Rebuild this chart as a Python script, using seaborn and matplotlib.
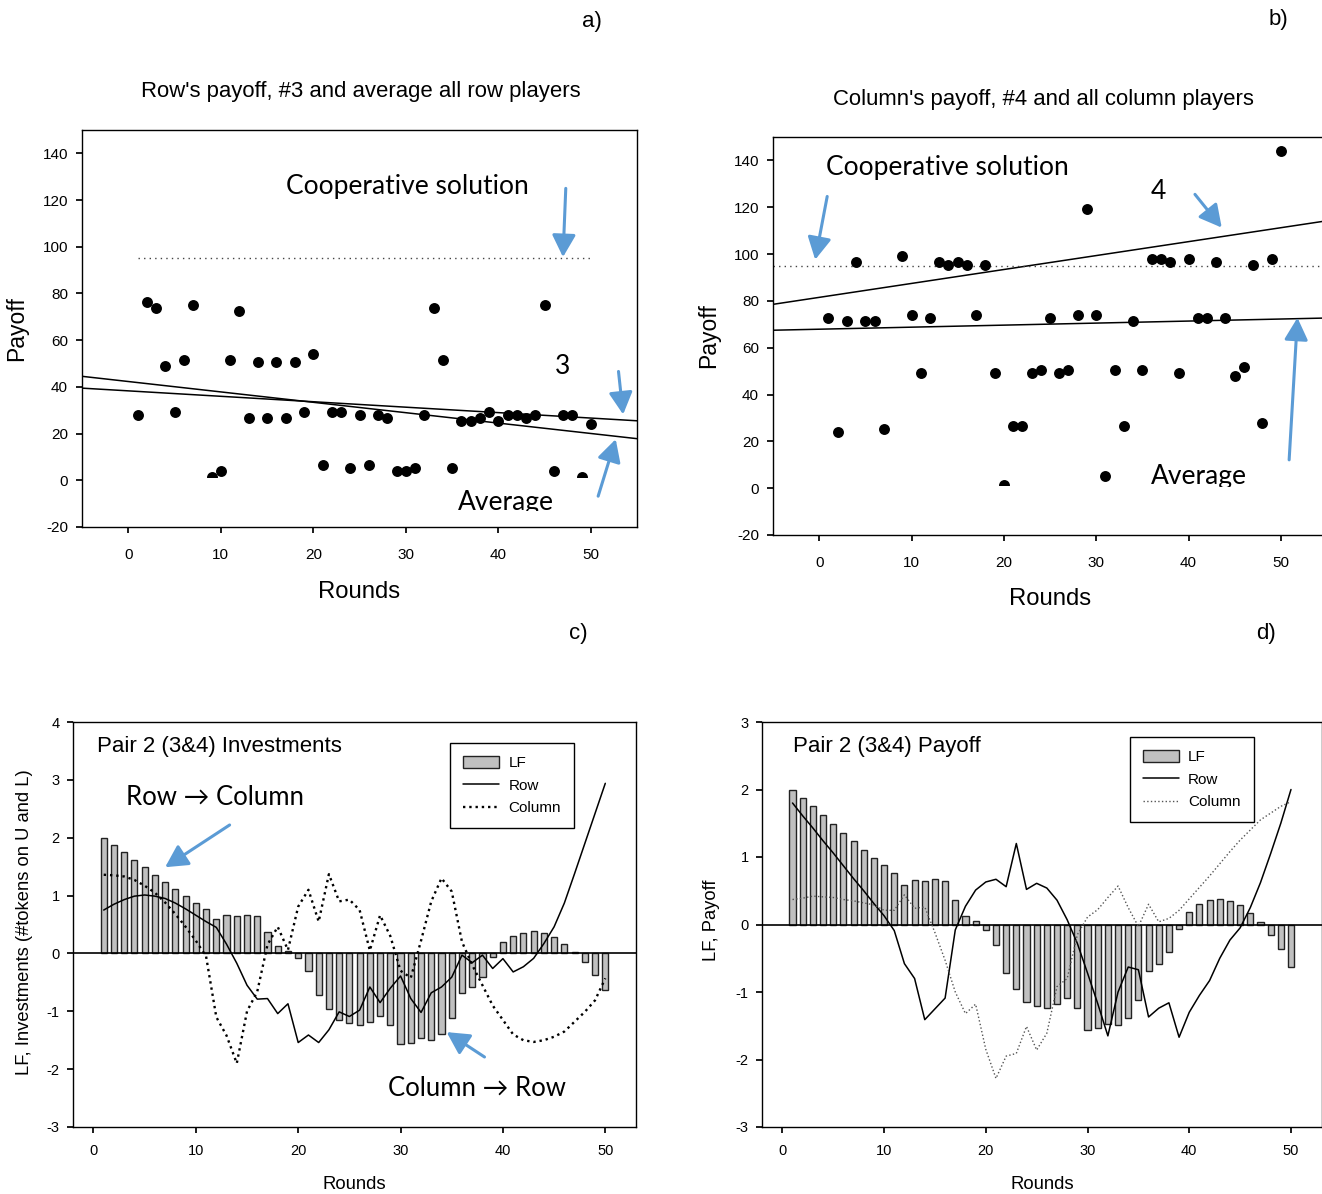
import numpy as np
import pandas as pd
import matplotlib
matplotlib.use("Agg")
import matplotlib.pyplot as plt
import seaborn as sns
from matplotlib.patches import Rectangle, Patch
from matplotlib.lines import Line2D

# ---------------- data ----------------
rounds_ab = [1, 2, 3, 4, 5, 6, 7, 9, 10, 11, 12, 13, 14, 15, 16, 17, 18, 19, 20,
             21, 22, 23, 24, 25, 26, 27, 28, 29, 30, 31, 32, 33, 34, 35, 36, 37,
             38, 39, 40, 41, 42, 43, 44, 45, 46, 47, 48, 49, 50]
payoff_row3 = [27.9, 76.4, 73.9, 49.0, 29.1, 51.6, 75.2, 1.5, 4.0, 51.6, 72.6, 26.7,
               50.5, 26.7, 50.5, 26.7, 50.5, 29.1, 54.1, 6.7, 29.1, 29.1, 5.3, 27.9,
               6.7, 27.9, 26.7, 4.0, 4.0, 5.3, 27.9, 73.9, 51.6, 5.3, 25.3, 25.3,
               26.7, 29.1, 25.3, 27.9, 27.9, 26.7, 27.9, 75.2, 4.0, 27.9, 27.9, 1.5, 24.2]
payoff_col4 = [72.7, 24.0, 71.6, 96.7, 71.6, 71.6, 25.4, 99.3, 74.1, 49.1, 72.7, 96.7,
               95.4, 96.7, 95.4, 74.1, 95.4, 49.1, 1.5, 26.7, 26.7, 49.1, 50.4, 72.7,
               49.1, 50.4, 74.1, 119.1, 74.1, 5.3, 50.4, 26.7, 71.6, 50.4, 97.9, 97.9,
               96.7, 49.1, 97.9, 72.7, 72.7, 96.7, 72.7, 47.9, 51.7, 95.4, 27.9, 97.9, 144.1]
coop_solution = 95
# trend lines (intercept, slope)
trend_a = {"3": (38.3, -0.233), "Average": (42.3, -0.445)}
trend_b = {"4": (81.5, 0.595), "Average": (67.9, 0.087)}

rounds = list(range(1, 51))
lf = [1.99, 1.87, 1.75, 1.62, 1.49, 1.36, 1.23, 1.11, 0.99, 0.88,
      0.77, 0.59, 0.66, 0.65, 0.67, 0.64, 0.37, 0.12, 0.05, -0.085,
      -0.30, -0.72, -0.96, -1.15, -1.21, -1.24, -1.18, -1.09, -1.24, -1.57,
      -1.54, -1.47, -1.49, -1.39, -1.12, -0.69, -0.58, -0.41, -0.07, 0.19,
      0.30, 0.36, 0.38, 0.35, 0.29, 0.17, 0.03, -0.15, -0.37, -0.63]
inv_row = [0.75, 0.85, 0.93, 0.99, 1.01, 0.99, 0.95, 0.87, 0.77, 0.66,
           0.55, 0.45, 0.16, -0.17, -0.55, -0.79, -0.78, -1.04, -0.87, -1.54,
           -1.41, -1.54, -1.32, -1.01, -1.09, -0.98, -0.58, -0.85, -0.60, -0.39,
           -0.78, -1.02, -0.68, -0.58, -0.41, -0.03, -0.16, -0.03, -0.26, -0.09,
           -0.32, -0.23, -0.085, 0.17, 0.46, 0.87, 1.38, 1.90, 2.42, 2.94]
inv_col = [1.36, 1.35, 1.33, 1.27, 1.17, 1.05, 0.88, 0.68, 0.46, 0.22,
           -0.05, -1.10, -1.42, -1.90, -1.00, -0.66, 0.15, 0.46, 0.06, 0.81,
           1.10, 0.55, 1.37, 0.90, 0.93, 0.75, 0.05, 0.66, 0.30, -0.30,
           -0.42, 0.22, 0.90, 1.30, 1.07, 0.20, -0.20, -0.55, -0.90, -1.15,
           -1.40, -1.50, -1.53, -1.50, -1.44, -1.35, -1.18, -1.01, -0.81, -0.43]
pay_row = [1.80, 1.61, 1.43, 1.24, 1.06, 0.87, 0.68, 0.50, 0.31, 0.13,
           -0.09, -0.58, -0.80, -1.41, -1.25, -1.09, -0.08, 0.27, 0.51, 0.63,
           0.67, 0.56, 1.20, 0.52, 0.61, 0.54, 0.36, 0.07, -0.28, -0.72,
           -1.17, -1.65, -1.00, -0.63, -0.67, -1.37, -1.24, -1.16, -1.67, -1.30,
           -1.05, -0.83, -0.50, -0.23, -0.05, 0.25, 0.62, 1.05, 1.50, 2.00]
pay_col = [0.37, 0.39, 0.42, 0.41, 0.40, 0.37, 0.35, 0.32, 0.29, 0.21,
           0.21, 0.44, 0.24, 0.26, -0.12, -0.53, -1.00, -1.32, -1.18, -1.85,
           -2.28, -1.95, -1.91, -1.51, -1.86, -1.61, -0.92, -0.80, -0.15, 0.11,
           0.22, 0.40, 0.57, 0.25, -0.03, 0.30, 0.04, 0.09, 0.21, 0.38,
           0.55, 0.72, 0.90, 1.08, 1.25, 1.40, 1.55, 1.65, 1.75, 1.82]

# ---------------- style ----------------
sns.set_theme(style="ticks", rc={"axes.edgecolor": "black", "axes.linewidth": 1.0,
                                 "xtick.color": "black", "ytick.color": "black",
                                 "xtick.direction": "out", "ytick.direction": "out",
                                 "xtick.major.size": 4, "ytick.major.size": 4,
                                 "text.color": "black", "axes.labelcolor": "black",
                                 "axes.unicode_minus": False})
plt.rcParams["font.family"] = ["Liberation Sans", "DejaVu Sans"]
BIG = ["Lato", "DejaVu Sans"]
BLUE = "#5B9BD5"

W, H = 1322, 1194
fig = plt.figure(figsize=(W / 100, H / 100), dpi=100)


def add_ax(l, t, r, b):
    return fig.add_axes([l / W, 1 - b / H, (r - l) / W, (b - t) / H])


def ftext(x, y, s, **kw):
    fig.text(x / W, 1 - y / H, s, ha="center", va="center", **kw)


def arrow(ax, tail, head):
    ax.annotate("", xy=head, xytext=tail,
                arrowprops=dict(arrowstyle="-|>,head_length=0.75,head_width=0.4",
                                color=BLUE, lw=2.2, shrinkA=0, shrinkB=0,
                                mutation_scale=18))


axA = add_ax(82, 130, 637, 527)
axB = add_ax(773, 137, 1327, 535)
axC = add_ax(73, 722, 636, 1127)
axD = add_ax(762, 722, 1321.5, 1127)

# ---------------- panel a / b ----------------
for ax, pay, trend, full_coop, clip_pt, clip_txt, texts in [
    (axA, payoff_row3, trend_a, False, 1.5, -13.2,
     dict(coop=(17.1, 125.9), num=("3", 46.9, 48.7), avg=(35.6, -9.3))),
    (axB, payoff_col4, trend_b, True, 1.5, 0.5,
     dict(coop=(0.76, 137.0), num=("4", 36.7, 126.7), avg=(35.9, 4.8))),
]:
    ax.set_xlim(-5, 55)
    ax.set_ylim(-20, 150)
    xl = np.array(ax.get_xlim())
    for key, (b0, b1) in trend.items():
        sns.lineplot(x=xl, y=b0 + b1 * xl, ax=ax, color="black", lw=1.1)
    if full_coop:
        ax.axhline(coop_solution, color="#444444", lw=1.0, ls=(0, (1, 3)))
    else:
        sns.lineplot(x=[rounds_ab[0], rounds_ab[-1]], y=[coop_solution] * 2, ax=ax,
                     color="#444444", lw=1.0, ls=(0, (1, 3)))
    sns.scatterplot(x=rounds_ab, y=pay, ax=ax, color="black", s=62, linewidth=0, zorder=3)
    sc = ax.collections[-1]
    sc.set_clip_path(Rectangle((-5, clip_pt), 60, 200, transform=ax.transData))
    ax.text(*texts["coop"], "Cooperative solution", family=BIG, fontsize=19,
            ha="left", va="center")
    n, nx, ny = texts["num"]
    ax.text(nx, ny, n, family=BIG, fontsize=19, ha="center", va="center")
    t = ax.text(*texts["avg"], "Average", family=BIG, fontsize=19, ha="left",
                va="center", clip_on=True)
    t.set_clip_path(Rectangle((-5, clip_txt), 60, 200, transform=ax.transData))
    ax.set_xticks([0, 10, 20, 30, 40, 50])
    ax.set_yticks(range(-20, 141, 20))
    ax.tick_params(axis="x", labelsize=11, pad=11)
    ax.tick_params(axis="y", labelsize=11, pad=6)
    ax.set_xlim(-5, 55)
    ax.set_ylim(-20, 150)
    for s in ax.spines.values():
        s.set_visible(True)

axA.set_xlabel("Rounds", fontsize=17.2)
axA.set_ylabel("Payoff", fontsize=16.5)
axA.xaxis.set_label_coords(0.5, -0.1637)
axA.yaxis.set_label_coords(-0.1171, 0.5)
axB.set_xlabel("Rounds", fontsize=17.2)
axB.set_ylabel("Payoff", fontsize=16.5)
axB.xaxis.set_label_coords(0.5, -0.161)
axB.yaxis.set_label_coords(-0.1155, 0.5)

# arrows a
arrow(axA, (47.3, 125.0), (47.0, 95.6))
arrow(axA, (53.0, 46.6), (53.5, 28.2))
arrow(axA, (50.8, -6.8), (52.7, 17.6))
# arrows b
arrow(axB, (0.87, 124.6), (-0.43, 97.6))
arrow(axB, (40.7, 125.5), (43.6, 111.3))
arrow(axB, (50.9, 12.1), (51.8, 72.8))

# ---------------- panel c / d ----------------
for ax, row, col, ylim, colstyle in [
    (axC, inv_row, inv_col, (-3, 4), dict(color="black", lw=1.7, ls=":")),
    (axD, pay_row, pay_col, (-3, 3), dict(color="#555555", lw=1.0, ls=":")),
]:
    sns.barplot(x=rounds, y=lf, ax=ax, native_scale=True, width=0.6, color="#c0c0c0",
                saturation=1, edgecolor="#222222", linewidth=1.0, errorbar=None, zorder=2)
    ax.axhline(0, color="black", lw=1.2, zorder=3)
    sns.lineplot(x=rounds, y=row, ax=ax, color="black", lw=1.1, zorder=4)
    sns.lineplot(x=rounds, y=col, ax=ax, zorder=4, **colstyle)
    ax.set_xlim(-2, 53)
    ax.set_ylim(*ylim)
    ax.set_xticks([0, 10, 20, 30, 40, 50])
    ax.set_yticks(range(ylim[0], ylim[1] + 1))
    ax.tick_params(axis="x", labelsize=10.5, pad=8)
    ax.tick_params(axis="y", labelsize=10.5, pad=5.5)
    for s in ax.spines.values():
        s.set_visible(True)
    handles = [Patch(facecolor="#c0c0c0", edgecolor="#222222", label="LF"),
               Line2D([], [], color="black", lw=1.1, label="Row"),
               Line2D([], [], label="Column", **colstyle)]
    anchor = (0.670, 0.948) if ax is axC else (0.658, 0.963)
    leg = ax.legend(handles=handles, loc="upper left", bbox_to_anchor=anchor,
                    borderaxespad=0, frameon=True, fancybox=False, framealpha=1,
                    edgecolor="black", fontsize=11, handlelength=2.35,
                    handleheight=0.8, borderpad=0.85, labelspacing=0.55,
                    handletextpad=0.6)
    leg.get_frame().set_linewidth(1.0)

axC.set_xlabel("Rounds", fontsize=13.3)
axC.set_ylabel("LF, Investments (#tokens on U and L)", fontsize=13.2)
axC.xaxis.set_label_coords(0.5, -0.141)
axC.yaxis.set_label_coords(-0.0853, 0.506)
axD.set_xlabel("Rounds", fontsize=13.3)
axD.set_ylabel("LF, Payoff", fontsize=13.2)
axD.xaxis.set_label_coords(0.501, -0.141)
axD.yaxis.set_label_coords(-0.0894, 0.511)

for ax in (axA, axB, axC, axD):
    ax.xaxis.label.set_va("center")
    ax.yaxis.label.set_va("center")
    ax.yaxis.label.set_ha("center")

axC.text(0.34, 3.57, "Pair 2 (3&4) Investments", fontsize=16, ha="left", va="center")
axD.text(1.05, 2.63, "Pair 2 (3&4) Payoff", fontsize=16, ha="left", va="center")
axC.text(3.2, 2.70, "Row \u2192 Column", family=BIG, fontsize=18.5, ha="left", va="center")
axC.text(28.8, -2.33, "Column \u2192 Row", family=BIG, fontsize=18.5, ha="left", va="center")
arrow(axC, (13.3, 2.22), (7.0, 1.49))
arrow(axC, (38.2, -1.79), (34.5, -1.36))

# ---------------- titles / panel letters ----------------
ftext(361, 92, "Row's payoff, #3 and average all row players", fontsize=15.9)
ftext(1043, 100, "Column's payoff, #4 and all column players", fontsize=15.9)
ftext(592, 22, "a)", fontsize=16)
ftext(1278, 20, "b)", fontsize=16)
ftext(578, 633, "c)", fontsize=16)
ftext(1266, 633, "d)", fontsize=16)

fig.savefig("out.png", dpi=100)
